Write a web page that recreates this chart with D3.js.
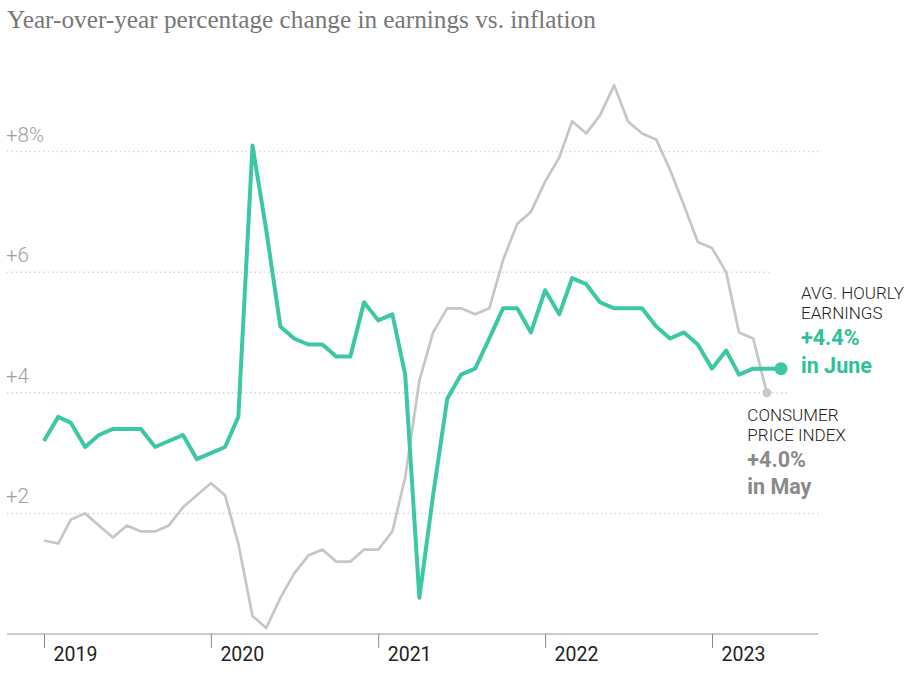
<!DOCTYPE html>
<html>
<head>
<meta charset="utf-8">
<script src="https://cdn.jsdelivr.net/npm/d3@7"></script>
<style>
  body { margin: 0; background: #fff; }
  svg { display: block; }
</style>
</head>
<body>
<div id="viz"></div>
<script>
// chart data, monthly from Jan 2019
const startYear = 2019;
const earnings = [
  3.2, 3.6, 3.5, 3.1, 3.3, 3.4, 3.4, 3.4, 3.1, 3.2, 3.3, 2.9, // 2019
  3.0, 3.1, 3.6, 8.1, 6.7, 5.1, 4.9, 4.8, 4.8, 4.6, 4.6, 5.5, // 2020
  5.2, 5.3, 4.3, 0.6, 2.3, 3.9, 4.3, 4.4, 4.9, 5.4, 5.4, 5.0, // 2021
  5.7, 5.3, 5.9, 5.8, 5.5, 5.4, 5.4, 5.4, 5.1, 4.9, 5.0, 4.8, // 2022
  4.4, 4.7, 4.3, 4.4, 4.4, 4.4                                // 2023 (to June)
];
const cpi = [
  1.55, 1.5, 1.9, 2.0, 1.8, 1.6, 1.8, 1.7, 1.7, 1.8, 2.1, 2.3,
  2.5, 2.3, 1.5, 0.3, 0.1, 0.6, 1.0, 1.3, 1.4, 1.2, 1.2, 1.4,
  1.4, 1.7, 2.6, 4.2, 5.0, 5.4, 5.4, 5.3, 5.4, 6.2, 6.8, 7.0,
  7.5, 7.9, 8.5, 8.3, 8.6, 9.1, 8.5, 8.3, 8.2, 7.7, 7.1, 6.5,
  6.4, 6.0, 5.0, 4.9, 4.0                                     // to May
];
const yTicks = [2, 4, 6, 8];
const yTickLabels = ["+2", "+4", "+6", "+8%"];
const yearLabels = ["2019", "2020", "2021", "2022", "2023"];
const title = "Year-over-year percentage change in earnings vs. inflation";

const teal = "#3dc8a5";
const grey = "#c6c6c6";

const W = 917, H = 683;
const svg = d3.select("#viz").append("svg")
  .attr("width", W)
  .attr("height", H);

//scales
const x = d3.scaleTime()
  .domain([new Date(2019, 0, 1), new Date(2023, 0, 1)])
  .range([44, 712]);
const y = d3.scaleLinear()
  .domain([0, 8])
  .range([634, 151.5]);

const monthDate = i => new Date(startYear, i, 1);
const earnData = earnings.map((v, i) => ({date: monthDate(i), value: v}));
const cpiData = cpi.map((v, i) => ({date: monthDate(i), value: v}));

//title
const t = svg.append("text")
  .attr("x", 7)
  .attr("y", 28)
  .attr("fill", "#777")
  .style("font-family", "'Liberation Serif', serif")
  .style("font-size", "22px")
  .text(title);
// fit title width to the reference
let fs = 22;
while (t.node().getComputedTextLength() > 590 && fs > 10) { fs -= 0.25; t.style("font-size", fs + "px"); }
while (t.node().getComputedTextLength() < 586 && fs < 30) { fs += 0.25; t.style("font-size", fs + "px"); }

//gridlines (they stop at different spots around the labels)
const gridEnd = {2: 820, 4: 790, 6: 772, 8: 820};
svg.selectAll("line.grid")
  .data(yTicks)
  .enter()
  .append("line")
  .attr("class", "grid")
  .attr("x1", 7)
  .attr("x2", d => gridEnd[d])
  .attr("y1", d => y(d))
  .attr("y2", d => y(d))
  .attr("stroke", "#d6d6d6")
  .attr("stroke-width", 1.5)
  .attr("stroke-dasharray", "1.5,3");

svg.selectAll("text.ylab")
  .data(yTicks)
  .enter()
  .append("text")
  .attr("class", "ylab")
  .attr("x", 6)
  .attr("y", d => y(d) - 10)
  .attr("fill", "#a0a0a0")
  .style("font-family", "Roboto, sans-serif")
  .style("font-weight", 300)
  .style("font-size", "20.5px")
  .text((d, i) => yTickLabels[i]);

//x axis
const xAxis = d3.axisBottom(x)
  .ticks(d3.timeYear.every(1))
  .tickSize(14)
  .tickFormat((d, i) => yearLabels[i]);
const gx = svg.append("g")
  .attr("transform", `translate(0,${y(0)})`)
  .call(xAxis);
gx.select(".domain").remove();
gx.selectAll(".tick line").attr("stroke", "#888").attr("stroke-width", 1);
gx.selectAll(".tick text")
  .attr("text-anchor", "start")
  .attr("x", 9)
  .attr("y", 27)
  .attr("dy", 0)
  .attr("fill", "#222")
  .style("font-family", "Roboto, sans-serif")
  .style("font-size", "19.5px");
svg.append("line")
  .attr("x1", 7).attr("x2", 818)
  .attr("y1", y(0)).attr("y2", y(0))
  .attr("stroke", "#999")
  .attr("stroke-width", 1.2);

//lines
const line = d3.line()
  .x(d => x(d.date))
  .y(d => y(d.value));

svg.append("path")
  .datum(cpiData)
  .attr("d", line)
  .attr("fill", "none")
  .attr("stroke", grey)
  .attr("stroke-width", 2.7)
  .attr("stroke-linejoin", "round");

svg.append("path")
  .datum(earnData)
  .attr("d", line)
  .attr("fill", "none")
  .attr("stroke", teal)
  .attr("stroke-width", 4)
  .attr("stroke-linejoin", "round");

//end dots
const lastE = earnData[earnData.length - 1];
const lastC = cpiData[cpiData.length - 1];
svg.append("circle")
  .attr("cx", x(lastC.date)).attr("cy", y(lastC.value))
  .attr("r", 4.5)
  .attr("fill", "#c8c8c8");
svg.append("circle")
  .attr("cx", x(lastE.date)).attr("cy", y(lastE.value))
  .attr("r", 6.5)
  .attr("fill", teal);

//annotations
function label(x0, y0, lines) {
  lines.forEach(l => {
    svg.append("text")
      .attr("x", x0)
      .attr("y", y0 + l.dy)
      .attr("fill", l.color)
      .style("font-family", "Roboto, sans-serif")
      .style("font-weight", l.bold ? 700 : 300)
      .style("font-size", l.bold ? "21.5px" : "17px")
      .text(l.text);
  });
}
label(x(lastE.date) + 20, y(lastE.value), [
  {text: "AVG. HOURLY", dy: -70, color: "#222"},
  {text: "EARNINGS", dy: -50, color: "#222"},
  {text: "+" + lastE.value.toFixed(1) + "%", dy: -23.5, color: "#2fbf9b", bold: true},
  {text: "in June", dy: 4, color: "#2fbf9b", bold: true}
]);
label(x(lastC.date) - 19.5, y(lastC.value), [
  {text: "CONSUMER", dy: 28, color: "#222"},
  {text: "PRICE INDEX", dy: 48, color: "#222"},
  {text: "+" + lastC.value.toFixed(1) + "%", dy: 74, color: "#8a8a8a", bold: true},
  {text: "in May", dy: 101, color: "#8a8a8a", bold: true}
]);
</script>
</body>
</html>
